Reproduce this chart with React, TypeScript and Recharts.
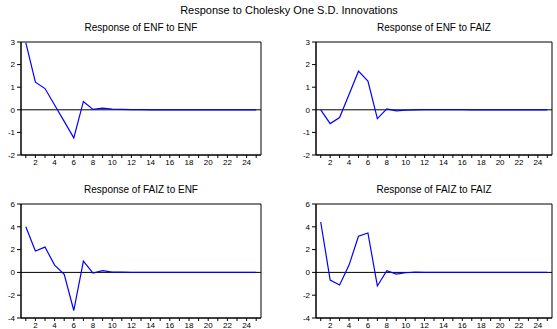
import { LineChart, Line, XAxis, YAxis, ReferenceLine, ReferenceArea } from 'recharts';

const PERIODS = [1, 2, 3, 4, 5, 6, 7, 8, 9, 10, 11, 12, 13, 14, 15, 16, 17, 18, 19, 20, 21, 22, 23, 24, 25];
const LABELED_PERIODS = [2, 4, 6, 8, 10, 12, 14, 16, 18, 20, 22, 24];

const ENF_TO_ENF = [2.97, 1.22, 0.94, 0.21, -0.51, -1.24, 0.37, 0.02, 0.07, 0.03, 0.02, 0.01, 0.01, 0.0, 0.0, 0.0, 0.0, 0.0, 0.0, 0.0, 0.0, 0.0, 0.0, 0.0, 0.0];
const ENF_TO_FAIZ = [0.0, -0.61, -0.34, 0.68, 1.71, 1.27, -0.39, 0.04, -0.05, -0.02, 0.0, 0.01, 0.01, 0.01, 0.01, 0.01, 0.0, 0.0, 0.0, 0.0, 0.0, 0.0, 0.0, 0.0, 0.0];
const FAIZ_TO_ENF = [4.01, 1.88, 2.22, 0.64, -0.17, -3.34, 0.99, -0.06, 0.15, 0.03, 0.02, 0.01, 0.0, 0.0, 0.0, 0.0, 0.0, 0.0, 0.0, 0.0, 0.0, 0.0, 0.0, 0.0, 0.0];
const FAIZ_TO_FAIZ = [4.42, -0.67, -1.1, 0.64, 3.17, 3.46, -1.19, 0.15, -0.15, -0.03, 0.02, 0.01, 0.01, 0.0, 0.0, 0.0, 0.0, 0.0, 0.0, 0.0, 0.0, 0.0, 0.0, 0.0, 0.0];

const TOP_TICKS = [-2, -1, 0, 1, 2, 3];
const BOTTOM_TICKS = [-4, -2, 0, 2, 4, 6];

const FONT = '"Liberation Sans", Arial, sans-serif';
const tickStyle = { fontSize: 8, fill: '#000', fontFamily: FONT };

type PanelProps = {
  title: string;
  values: number[];
  yTicks: number[];
  left: number;
  top: number;
  width: number;
  height: number;
  marginTop: number;
  marginRight: number;
  xAxisHeight: number;
};

function Panel({ title, values, yTicks, left, top, width, height, marginTop, marginRight, xAxisHeight }: PanelProps) {
  const data = PERIODS.map((p, i) => ({ period: p, value: values[i] }));
  const yMin = yTicks[0];
  const yMax = yTicks[yTicks.length - 1];
  const plotLeft = 21;
  const plotRight = width - marginRight;
  return (
    <div style={{ position: 'absolute', left, top, width, height }}>
      <div
        style={{
          position: 'absolute',
          left: plotLeft,
          width: plotRight - plotLeft,
          top: marginTop - 20,
          textAlign: 'center',
          fontFamily: FONT,
          fontSize: 10,
          lineHeight: '12px',
          color: '#000',
        }}
      >
        {title}
      </div>
      <LineChart width={width} height={height} data={data} margin={{ top: marginTop, right: marginRight, bottom: 0, left: 0 }}>
        <XAxis
          dataKey="period"
          type="number"
          domain={[0.5, 25.5]}
          ticks={PERIODS}
          interval={0}
          tickFormatter={(v) => (LABELED_PERIODS.includes(v) ? String(v) : '')}
          tick={tickStyle}
          tickSize={3}
          tickMargin={1}
          height={xAxisHeight}
          stroke="#000"
          axisLine={{ stroke: '#000' }}
          tickLine={{ stroke: '#000' }}
        />
        <YAxis
          type="number"
          domain={[yMin, yMax]}
          ticks={yTicks}
          interval={0}
          tick={tickStyle}
          tickSize={4}
          tickMargin={2}
          width={plotLeft}
          stroke="#000"
          axisLine={{ stroke: '#000' }}
          tickLine={{ stroke: '#000' }}
          allowDataOverflow
        />
        <ReferenceArea x1={0.5} x2={25.5} y1={yMin} y2={yMax} fill="none" stroke="#000" strokeWidth={1} />
        <ReferenceLine y={0} stroke="#000" strokeWidth={1} />
        <Line
          type="linear"
          dataKey="value"
          stroke="#0000ff"
          strokeWidth={1.2}
          dot={false}
          isAnimationActive={false}
        />
      </LineChart>
    </div>
  );
}

export default function App() {
  return (
    <div style={{ position: 'absolute', left: 0, top: 0, width: 557, height: 329, background: '#fff', overflow: 'hidden' }}>
      <div
        style={{
          position: 'absolute',
          left: 0,
          width: 578,
          top: 4,
          textAlign: 'center',
          fontFamily: FONT,
          fontSize: 11,
          lineHeight: '13px',
          color: '#000',
        }}
      >
        Response to Cholesky One S.D. Innovations
      </div>
      <Panel title="Response of ENF to ENF" values={ENF_TO_ENF} yTicks={TOP_TICKS} left={0} top={30} width={278} height={140} marginTop={12} marginRight={17} xAxisHeight={15} />
      <Panel title="Response of ENF to FAIZ" values={ENF_TO_FAIZ} yTicks={TOP_TICKS} left={295} top={30} width={262} height={140} marginTop={12} marginRight={5} xAxisHeight={15} />
      <Panel title="Response of FAIZ to ENF" values={FAIZ_TO_ENF} yTicks={BOTTOM_TICKS} left={0} top={192} width={278} height={137} marginTop={12} marginRight={17} xAxisHeight={11} />
      <Panel title="Response of FAIZ to FAIZ" values={FAIZ_TO_FAIZ} yTicks={BOTTOM_TICKS} left={295} top={192} width={262} height={137} marginTop={12} marginRight={5} xAxisHeight={11} />
    </div>
  );
}
